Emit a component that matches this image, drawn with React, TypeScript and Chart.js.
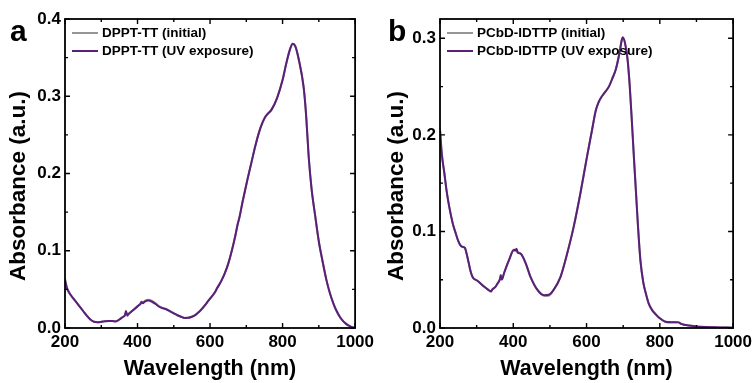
import React, { useEffect, useRef } from "react";
import { Chart, registerables } from "chart.js";

Chart.register(...registerables);

// ---------- Data ----------
const waveA = [200, 205, 210, 220, 230, 240, 250, 260, 270, 280, 290, 300, 310, 320, 330, 340, 345, 350, 360, 365, 368, 372, 375, 380, 390, 400, 405, 408, 411, 415, 420, 430, 440, 450, 460, 470, 480, 490, 500, 510, 520, 530, 540, 550, 560, 570, 580, 590, 600, 613, 620, 630, 640, 650, 660, 670, 676, 681, 690, 703, 715, 725, 739, 752, 770, 785, 800, 810, 820, 828, 835, 845, 858, 865, 872, 880, 890, 900, 910, 921, 930, 940, 948, 960, 976, 990, 1000];
const uvA = [0.062, 0.052, 0.047, 0.040, 0.034, 0.028, 0.022, 0.016, 0.011, 0.008, 0.0075, 0.008, 0.0088, 0.0092, 0.009, 0.0085, 0.0095, 0.011, 0.0145, 0.016, 0.022, 0.016, 0.018, 0.020, 0.024, 0.028, 0.030, 0.031, 0.034, 0.032, 0.034, 0.0355, 0.034, 0.031, 0.0275, 0.0255, 0.024, 0.0215, 0.019, 0.0165, 0.0145, 0.013, 0.0132, 0.0145, 0.017, 0.021, 0.026, 0.032, 0.038, 0.046, 0.052, 0.060, 0.070, 0.083, 0.100, 0.120, 0.134, 0.143, 0.164, 0.192, 0.216, 0.236, 0.259, 0.273, 0.283, 0.298, 0.321, 0.342, 0.360, 0.368, 0.365, 0.347, 0.312, 0.275, 0.222, 0.180, 0.145, 0.112, 0.087, 0.062, 0.046, 0.032, 0.023, 0.013, 0.005, 0.0015, 0.0];
const initA = [0.064, 0.053, 0.047, 0.040, 0.034, 0.028, 0.022, 0.016, 0.011, 0.008, 0.0075, 0.008, 0.0088, 0.0092, 0.009, 0.0088, 0.0095, 0.011, 0.0145, 0.0165, 0.020, 0.017, 0.018, 0.020, 0.024, 0.028, 0.030, 0.032, 0.033, 0.033, 0.035, 0.0365, 0.035, 0.032, 0.028, 0.026, 0.0245, 0.0215, 0.019, 0.0165, 0.0145, 0.013, 0.0132, 0.0145, 0.017, 0.021, 0.026, 0.032, 0.038, 0.046, 0.052, 0.060, 0.070, 0.083, 0.100, 0.120, 0.134, 0.143, 0.164, 0.192, 0.216, 0.236, 0.259, 0.273, 0.283, 0.298, 0.321, 0.342, 0.360, 0.368, 0.365, 0.347, 0.312, 0.275, 0.222, 0.180, 0.145, 0.112, 0.087, 0.062, 0.046, 0.032, 0.023, 0.013, 0.005, 0.0015, 0.0];

const waveB = [200, 205, 212, 218, 225, 235, 243, 250, 257, 262, 268, 272, 278, 284, 290, 302, 320, 330, 339, 343, 350, 357, 363, 366, 369, 375, 388, 402, 405, 409, 412, 420, 434, 447, 465, 484, 497, 511, 529, 547, 565, 583, 601, 615, 625, 633, 642, 652, 661, 670, 680, 690, 696, 699, 705, 712, 718, 724, 730, 735, 740, 747, 755, 761, 770, 780, 788, 800, 815, 830, 845, 851, 860, 880, 900, 950, 1000];
const uvB = [0.205, 0.180, 0.160, 0.142, 0.126, 0.108, 0.098, 0.090, 0.085, 0.084, 0.083, 0.078, 0.068, 0.058, 0.052, 0.049, 0.043, 0.040, 0.038, 0.040, 0.042, 0.046, 0.050, 0.055, 0.050, 0.057, 0.070, 0.081, 0.080, 0.082, 0.078, 0.077, 0.067, 0.053, 0.040, 0.034, 0.0345, 0.040, 0.053, 0.077, 0.105, 0.139, 0.177, 0.205, 0.225, 0.234, 0.240, 0.245, 0.250, 0.258, 0.268, 0.285, 0.298, 0.301, 0.295, 0.278, 0.250, 0.212, 0.172, 0.140, 0.108, 0.070, 0.047, 0.037, 0.025, 0.018, 0.0145, 0.010, 0.0065, 0.006, 0.006, 0.0058, 0.004, 0.0025, 0.0015, 0.0007, 0.0003];
const initB = [0.206, 0.180, 0.160, 0.142, 0.126, 0.108, 0.098, 0.090, 0.085, 0.084, 0.083, 0.078, 0.068, 0.058, 0.052, 0.049, 0.043, 0.040, 0.0375, 0.040, 0.042, 0.046, 0.050, 0.053, 0.051, 0.057, 0.070, 0.081, 0.081, 0.081, 0.079, 0.077, 0.067, 0.053, 0.040, 0.0335, 0.0335, 0.040, 0.053, 0.077, 0.105, 0.139, 0.177, 0.205, 0.225, 0.234, 0.240, 0.245, 0.250, 0.258, 0.268, 0.285, 0.298, 0.300, 0.295, 0.278, 0.250, 0.212, 0.172, 0.140, 0.108, 0.070, 0.047, 0.037, 0.025, 0.018, 0.0145, 0.010, 0.0065, 0.006, 0.006, 0.0058, 0.004, 0.0025, 0.0015, 0.0007, 0.0003];

const labelsA = ["DPPT-TT (initial)", "DPPT-TT (UV exposure)"];
const labelsB = ["PCbD-IDTTP (initial)", "PCbD-IDTTP (UV exposure)"];
const xTicks = [200, 400, 600, 800, 1000];
const xMinor = [300, 500, 700, 900];
const yTicksA = [0, 0.1, 0.2, 0.3, 0.4];
const yTicksB = [0, 0.1, 0.2, 0.3];
const yMinorA = [0.05, 0.15, 0.25, 0.35];
const yMinorB = [0.05, 0.15, 0.25];

const FONT = "'Liberation Sans', Arial, Helvetica, sans-serif";
const GRAY = "#959595";
const PURPLE = "#5a2079";

type PanelProps = {
  letter: string;
  wave: number[];
  init: number[];
  uv: number[];
  labels: string[];
  yMax: number;
  yTicks: number[];
  yMinor: number[];
  yWidth: number;
  rightPad: number;
};

function Panel(p: PanelProps) {
  const ref = useRef<HTMLCanvasElement | null>(null);
  useEffect(() => {
    if (!ref.current) return;
    const toPts = (ys: number[]) => p.wave.map((x, i) => ({ x, y: ys[i] }));

    const decor = {
      id: "decor",
      afterDraw(chart: any) {
        const ctx = chart.ctx;
        const a = chart.chartArea;
        const xs = chart.scales.x;
        const ys = chart.scales.y;
        ctx.save();
        ctx.strokeStyle = "#000";
        ctx.lineWidth = 1.8;
        ctx.strokeRect(a.left, a.top, a.right - a.left, a.bottom - a.top);
        ctx.lineWidth = 1.4;
        const vt = (v: number, len: number) => {
          const px = xs.getPixelForValue(v);
          ctx.beginPath();
          ctx.moveTo(px, a.bottom);
          ctx.lineTo(px, a.bottom - len);
          ctx.moveTo(px, a.top);
          ctx.lineTo(px, a.top + len);
          ctx.stroke();
        };
        const ht = (v: number, len: number) => {
          const py = ys.getPixelForValue(v);
          ctx.beginPath();
          ctx.moveTo(a.left, py);
          ctx.lineTo(a.left + len, py);
          ctx.moveTo(a.right, py);
          ctx.lineTo(a.right - len, py);
          ctx.stroke();
        };
        xTicks.forEach((v) => vt(v, 5));
        xMinor.forEach((v) => vt(v, 3));
        p.yTicks.forEach((v) => ht(v, 5));
        p.yMinor.forEach((v) => ht(v, 3));
        ctx.restore();
      },
      afterDatasetsDraw(chart: any) {
        const ctx = chart.ctx;
        const a = chart.chartArea;
        ctx.save();
        ctx.font = `bold 13.5px ${FONT}`;
        ctx.textBaseline = "middle";
        ctx.fillStyle = "#000";
        chart.data.datasets.forEach((ds: any, i: number) => {
          const y = a.top + 14 + i * 18;
          ctx.strokeStyle = ds.borderColor;
          ctx.lineWidth = 2;
          ctx.beginPath();
          ctx.moveTo(a.left + 7, y);
          ctx.lineTo(a.left + 33, y);
          ctx.stroke();
          ctx.fillText(ds.label, a.left + 37, y);
        });
        ctx.font = `bold 30px ${FONT}`;
        ctx.textBaseline = "alphabetic";
        ctx.fillText(p.letter, 10, 41);
        ctx.restore();
      },
    };

    const chart = new Chart(ref.current, {
      type: "line",
      data: {
        datasets: [
          { label: p.labels[0], data: toPts(p.init), borderColor: GRAY, borderWidth: 2, pointRadius: 0, cubicInterpolationMode: "monotone", order: 1 },
          { label: p.labels[1], data: toPts(p.uv), borderColor: PURPLE, borderWidth: 2, pointRadius: 0, cubicInterpolationMode: "monotone", order: 0 },
        ],
      },
      options: {
        responsive: false,
        animation: false,
        layout: { padding: { top: 19, right: p.rightPad, bottom: 0, left: 0 } },
        plugins: { legend: { display: false }, tooltip: { enabled: false } },
        scales: {
          x: {
            type: "linear",
            min: 200,
            max: 1000,
            afterBuildTicks: (s: any) => {
              s.ticks = xTicks.map((v) => ({ value: v }));
            },
            afterFit: (s: any) => {
              s.height = 55;
            },
            grid: { display: false, drawTicks: false },
            border: { display: false },
            ticks: { padding: 4, color: "#000", font: { family: FONT, size: 17, weight: "bold" }, maxRotation: 0, callback: (v: any) => String(v) },
            title: { display: true, text: "Wavelength (nm)", color: "#000", font: { family: FONT, size: 21.5, weight: "bold" }, padding: { top: 0, bottom: 1 } },
          },
          y: {
            type: "linear",
            min: 0,
            max: p.yMax,
            afterBuildTicks: (s: any) => {
              s.ticks = p.yTicks.map((v) => ({ value: v }));
            },
            afterFit: (s: any) => {
              s.width = p.yWidth;
            },
            grid: { display: false, drawTicks: false },
            border: { display: false },
            ticks: { padding: 4, color: "#000", font: { family: FONT, size: 17, weight: "bold" }, callback: (v: any) => Number(v).toFixed(1) },
            title: { display: true, text: "Absorbance (a.u.)    ", color: "#000", font: { family: FONT, size: 22.5, weight: "bold" }, padding: { top: 5, bottom: 0 } },
          },
        },
      } as any,
      plugins: [decor],
    });
    return () => chart.destroy();
  }, []);
  return <canvas ref={ref} width={378} height={383} style={{ display: "block", width: 378, height: 383 }} />;
}

export default function App() {
  return (
    <div style={{ position: "absolute", left: 0, top: 0, width: 756, height: 383, display: "flex", background: "#fff" }}>
      <Panel letter="a" wave={waveA} init={initA} uv={uvA} labels={labelsA} yMax={0.4} yTicks={yTicksA} yMinor={yMinorA} yWidth={65} rightPad={19} />
      <Panel letter="b" wave={waveB} init={initB} uv={uvB} labels={labelsB} yMax={0.32} yTicks={yTicksB} yMinor={yMinorB} yWidth={62} rightPad={21} />
    </div>
  );
}
